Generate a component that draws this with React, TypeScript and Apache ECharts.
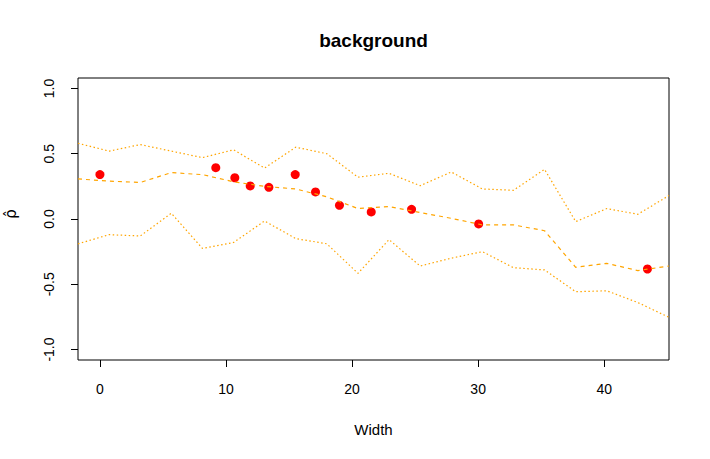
import { useEffect, useRef } from "react";
import * as echarts from "echarts";

const titleText = "background";
const xLabel = "Width";
const yLabel = "ρ̂";

const xTicks = [0, 10, 20, 30, 40];
const yTicks = [-1, -0.5, 0, 0.5, 1];

// Band / fitted-line vertices (x positions)
const bandX = [-1.74, 0.73, 3.2, 5.66, 8.13, 10.6, 13.06, 15.53, 18.0, 20.47, 22.93, 25.4, 27.87, 30.34, 32.8, 35.27, 37.74, 40.21, 42.67, 45.14];
const upper = [0.58, 0.52, 0.57, 0.52, 0.47, 0.53, 0.39, 0.55, 0.5, 0.32, 0.35, 0.255, 0.36, 0.23, 0.22, 0.38, -0.02, 0.08, 0.036, 0.18];
const middle = [0.307, 0.29, 0.28, 0.355, 0.34, 0.285, 0.25, 0.23, 0.17, 0.08, 0.095, 0.05, 0.005, -0.045, -0.045, -0.09, -0.37, -0.34, -0.395, -0.36];
const lower = [-0.19, -0.12, -0.13, 0.044, -0.225, -0.18, -0.015, -0.15, -0.19, -0.416, -0.158, -0.36, -0.3, -0.25, -0.373, -0.39, -0.557, -0.55, -0.64, -0.753];

// Observed points
const pointX = [0, 9.19, 10.7, 11.92, 13.4, 15.49, 17.1, 19.0, 21.52, 24.72, 30.04, 43.43];
const pointY = [0.34, 0.393, 0.316, 0.253, 0.243, 0.34, 0.207, 0.105, 0.054, 0.074, -0.038, -0.383];

const X_MIN = -1.74;
const X_MAX = 45.14;
const Y_MIN = -1.08;
const Y_MAX = 1.08;

const FONT = "Liberation Sans, Arial, Helvetica, sans-serif";

export default function App() {
  const ref = useRef<HTMLDivElement>(null);

  useEffect(() => {
    if (!ref.current) return;
    const chart = echarts.init(ref.current, undefined, { renderer: "svg" });
    const zip = (xs: number[], ys: number[]) => xs.map((x, i) => [x, ys[i]]);
    const orange = "#FFA500";

    chart.setOption({
      animation: false,
      backgroundColor: "#ffffff",
      grid: {
        left: 78,
        right: 41,
        top: 78,
        bottom: 99,
        show: true,
        borderColor: "#000",
        borderWidth: 1,
        backgroundColor: "transparent",
      },
      xAxis: {
        type: "value",
        min: X_MIN,
        max: X_MAX,
        splitLine: { show: false },
        axisLine: { show: false, onZero: false },
        axisTick: {
          show: true,
          length: 7,
          lineStyle: { color: "#000" },
          customValues: xTicks,
        },
        axisLabel: {
          color: "#000",
          fontFamily: FONT,
          fontSize: 14,
          margin: 22,
          customValues: xTicks,
          formatter: (v: number) => String(v),
        },
      },
      yAxis: {
        type: "value",
        min: Y_MIN,
        max: Y_MAX,
        splitLine: { show: false },
        axisLine: { show: false, onZero: false },
        axisTick: {
          show: true,
          length: 7,
          lineStyle: { color: "#000" },
          customValues: yTicks,
        },
        axisLabel: {
          color: "#000",
          fontFamily: FONT,
          fontSize: 14,
          margin: 22,
          rotate: 90,
          customValues: yTicks,
          formatter: (v: number) => v.toFixed(1),
        },
      },
      graphic: [
        {
          type: "text",
          x: 373.5,
          y: 40,
          style: {
            text: titleText,
            fill: "#000",
            font: `bold 19px ${FONT}`,
            textAlign: "center",
            textVerticalAlign: "middle",
          },
        },
        {
          type: "text",
          x: 373.5,
          y: 429,
          style: {
            text: xLabel,
            fill: "#000",
            font: `15px ${FONT}`,
            textAlign: "center",
            textVerticalAlign: "middle",
          },
        },
        {
          type: "text",
          x: 11,
          y: 214,
          rotation: Math.PI / 2,
          style: {
            text: yLabel,
            fill: "#000",
            font: `15px DejaVu Sans, ${FONT}`,
            textAlign: "center",
            textVerticalAlign: "middle",
          },
        },
      ],
      series: [
        {
          type: "scatter",
          data: zip(pointX, pointY),
          symbol: "circle",
          symbolSize: 9,
          itemStyle: { color: "#FF0000", opacity: 1 },
          silent: true,
        },
        {
          type: "line",
          data: zip(bandX, upper),
          symbol: "none",
          lineStyle: { color: orange, width: 1.2, type: [1.5, 2.5] },
          silent: true,
        },
        {
          type: "line",
          data: zip(bandX, middle),
          symbol: "none",
          lineStyle: { color: orange, width: 1.2, type: [4, 4] },
          silent: true,
        },
        {
          type: "line",
          data: zip(bandX, lower),
          symbol: "none",
          lineStyle: { color: orange, width: 1.2, type: [1.5, 2.5] },
          silent: true,
        },
      ],
    });

    return () => chart.dispose();
  }, []);

  return (
    <div
      ref={ref}
      style={{ position: "fixed", left: 0, top: 0, width: 710, height: 459, background: "#fff" }}
    />
  );
}
